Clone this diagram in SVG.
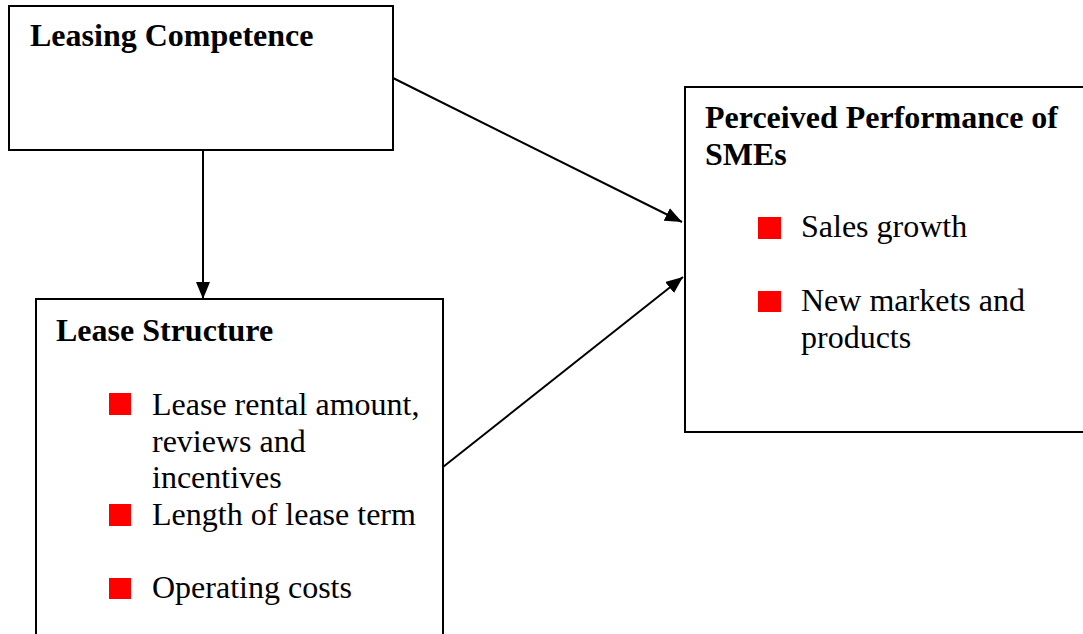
<svg xmlns="http://www.w3.org/2000/svg" width="1083" height="634" viewBox="0 0 1083 634">
<style>
.box{fill:#fff;stroke:#000;stroke-width:2}
.t{font-family:"Liberation Serif","Times New Roman",serif;font-size:32px;fill:#000}
.b{font-weight:bold}
.bul{fill:#ff0000}
.con{stroke:#000;stroke-width:2;fill:none}
</style>
<defs>
<marker id="ah" markerWidth="17" markerHeight="14" viewBox="0 0 17 14" refX="17" refY="7" orient="auto" markerUnits="userSpaceOnUse">
<path d="M0,0 L17,7 L0,14 Z" fill="#000"/>
</marker>
</defs>
<g id="connectors">
<line class="con" x1="203" y1="150" x2="203" y2="299" marker-end="url(#ah)"/>
<line class="con" x1="393" y1="78" x2="682" y2="222" marker-end="url(#ah)"/>
<line class="con" x1="443" y1="467" x2="683" y2="277" marker-end="url(#ah)"/>
</g>
<g id="leasing-competence">
<rect class="box" x="9" y="6" width="384" height="144"/>
<text class="t b" x="30" y="46">Leasing Competence</text>
</g>
<g id="lease-structure">
<rect class="box" x="36" y="299" width="407" height="345"/>
<text class="t b" x="56" y="341">Lease Structure</text>
<rect class="bul" x="109" y="393" width="22" height="22"/>
<text class="t" x="152" y="415">Lease rental amount,</text>
<text class="t" x="152" y="452">reviews and</text>
<text class="t" x="152" y="488">incentives</text>
<rect class="bul" x="109" y="504" width="22" height="22"/>
<text class="t" x="152" y="525">Length of lease term</text>
<rect class="bul" x="109" y="578" width="22" height="21"/>
<text class="t" x="152" y="598">Operating costs</text>
</g>
<g id="perceived-performance">
<rect class="box" x="685" y="87" width="400" height="345"/>
<text class="t b" x="705" y="128">Perceived Performance of</text>
<text class="t b" x="705" y="165">SMEs</text>
<rect class="bul" x="758" y="217" width="23" height="22"/>
<text class="t" x="801" y="237">Sales growth</text>
<rect class="bul" x="758" y="291" width="23" height="21"/>
<text class="t" x="801" y="311">New markets and</text>
<text class="t" x="801" y="348">products</text>
</g>
</svg>
